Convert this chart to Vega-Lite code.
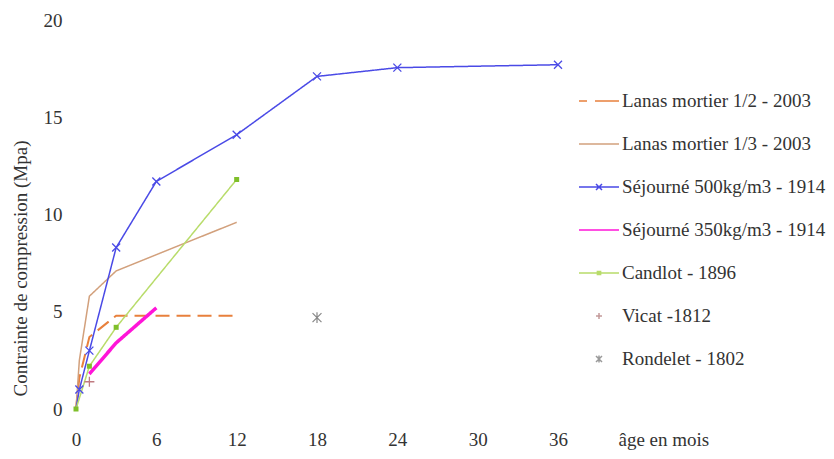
{
  "$schema": "https://vega.github.io/schema/vega-lite/v6.json",
  "width": 482,
  "height": 389,
  "autosize": {"type": "none"},
  "padding": {"left": 76, "top": 20, "right": 276, "bottom": 50},
  "background": "white",
  "config": {
    "view": {"stroke": null},
    "font": "Liberation Serif",
    "axis": {"grid": false, "domain": false, "ticks": false, "labelFlush": false, "labelFont": "Liberation Serif", "labelFontSize": 19, "labelColor": "#333", "titleFont": "Liberation Serif", "titleFontSize": 19, "titleColor": "#333", "titleFontWeight": "normal"},
    "legend": {"labelFont": "Liberation Serif", "labelFontSize": 19, "labelColor": "#333", "labelLimit": 400}
  },
  "data": {
    "values": [
      {"series": "Lanas mortier 1/2 - 2003", "month": 0, "mpa": 0},
      {"series": "Lanas mortier 1/2 - 2003", "month": 0.25, "mpa": 1.6},
      {"series": "Lanas mortier 1/2 - 2003", "month": 1, "mpa": 3.7},
      {"series": "Lanas mortier 1/2 - 2003", "month": 3, "mpa": 4.8},
      {"series": "Lanas mortier 1/2 - 2003", "month": 12, "mpa": 4.8},
      {"series": "Lanas mortier 1/3 - 2003", "month": 0, "mpa": 0},
      {"series": "Lanas mortier 1/3 - 2003", "month": 0.25, "mpa": 2.5},
      {"series": "Lanas mortier 1/3 - 2003", "month": 1, "mpa": 5.8},
      {"series": "Lanas mortier 1/3 - 2003", "month": 3, "mpa": 7.1},
      {"series": "Lanas mortier 1/3 - 2003", "month": 12, "mpa": 9.6},
      {"series": "Séjourné 500kg/m3 - 1914", "month": 0, "mpa": 0},
      {"series": "Séjourné 500kg/m3 - 1914", "month": 0.25, "mpa": 1.0},
      {"series": "Séjourné 500kg/m3 - 1914", "month": 1, "mpa": 3.0},
      {"series": "Séjourné 500kg/m3 - 1914", "month": 3, "mpa": 8.3},
      {"series": "Séjourné 500kg/m3 - 1914", "month": 6, "mpa": 11.7},
      {"series": "Séjourné 500kg/m3 - 1914", "month": 12, "mpa": 14.1},
      {"series": "Séjourné 500kg/m3 - 1914", "month": 18, "mpa": 17.1},
      {"series": "Séjourné 500kg/m3 - 1914", "month": 24, "mpa": 17.55},
      {"series": "Séjourné 500kg/m3 - 1914", "month": 36, "mpa": 17.7},
      {"series": "Séjourné 350kg/m3 - 1914", "month": 1, "mpa": 1.8},
      {"series": "Séjourné 350kg/m3 - 1914", "month": 3, "mpa": 3.4},
      {"series": "Séjourné 350kg/m3 - 1914", "month": 6, "mpa": 5.2},
      {"series": "Candlot - 1896", "month": 0, "mpa": 0},
      {"series": "Candlot - 1896", "month": 1, "mpa": 2.2},
      {"series": "Candlot - 1896", "month": 3, "mpa": 4.2},
      {"series": "Candlot - 1896", "month": 12, "mpa": 11.8},
      {"series": "Vicat -1812", "month": 1, "mpa": 1.4},
      {"series": "Rondelet - 1802", "month": 18, "mpa": 4.7}
    ]
  },
  "encoding": {
    "x": {"field": "month", "type": "quantitative", "scale": {"domain": [0, 36], "nice": false, "zero": false},
      "axis": {"values": [0, 6, 12, 18, 24, 30, 36], "labelPadding": 21, "title": "âge en mois", "titleX": 542, "titleY": 21, "titleAlign": "left", "titleBaseline": "top", "titleAnchor": null}},
    "y": {"field": "mpa", "type": "quantitative", "scale": {"domain": [0, 20], "nice": false},
      "axis": {"values": [0, 5, 10, 15, 20], "labelPadding": 14, "title": "Contrainte de compression (Mpa)", "titleX": -56, "titleY": 248, "titleAngle": -90, "titleAlign": "center", "titleBaseline": "middle", "titleAnchor": null}}
  },
  "layer": [
    {
      "transform": [{"filter": "datum.series !== 'Vicat -1812' && datum.series !== 'Rondelet - 1802'"}],
      "mark": {"type": "line"},
      "encoding": {
        "detail": {"field": "series", "type": "nominal"},
        "color": {"condition": [
          {"test": "datum.series === 'Lanas mortier 1/2 - 2003'", "value": "#e8803c"},
          {"test": "datum.series === 'Lanas mortier 1/3 - 2003'", "value": "#d2a07c"},
          {"test": "datum.series === 'Séjourné 500kg/m3 - 1914'", "value": "#4a4ae6"},
          {"test": "datum.series === 'Séjourné 350kg/m3 - 1914'", "value": "#ff14d8"}
        ], "value": "#b8dc6a"},
        "strokeWidth": {"condition": [{"test": "datum.series === 'Séjourné 350kg/m3 - 1914'", "value": 3.5}, {"test": "datum.series === 'Lanas mortier 1/2 - 2003'", "value": 2}], "value": 1.5},
        "strokeDash": {"condition": {"test": "datum.series === 'Lanas mortier 1/2 - 2003'", "value": [14, 7]}, "value": [1, 0]}
      }
    },
    {
      "mark": {"type": "point", "opacity": 0, "filled": false, "size": 1600},
      "encoding": {
        "color": {"field": "series", "type": "nominal",
          "scale": {"domain": ["Lanas mortier 1/2 - 2003", "Lanas mortier 1/3 - 2003", "Séjourné 500kg/m3 - 1914", "Séjourné 350kg/m3 - 1914", "Candlot - 1896", "Vicat -1812", "Rondelet - 1802"],
            "range": ["#e8803c", "#d2a07c", "#4a4ae6", "#ff14d8", "#b8dc6a", "#c49a9a", "#9a9a9a"]},
          "legend": {"title": null, "orient": "none", "legendX": 502, "legendY": 60, "symbolSize": 1600, "rowPadding": 12, "labelOffset": 2, "padding": 0,
            "encode": {"symbols": {"update": {"strokeWidth": {"signal": "datum.value === 'Séjourné 350kg/m3 - 1914' ? 3.5 : (datum.value === 'Lanas mortier 1/2 - 2003' ? 2 : 1.5)"}, "opacity": {"value": 1}}}}}},
        "shape": {"field": "series", "type": "nominal",
          "legend": {"title": null, "orient": "none", "legendX": 502, "legendY": 60, "symbolSize": 1600, "rowPadding": 12, "labelOffset": 2, "padding": 0,
            "encode": {"symbols": {"update": {"strokeWidth": {"signal": "datum.value === 'Séjourné 350kg/m3 - 1914' ? 3.5 : (datum.value === 'Lanas mortier 1/2 - 2003' ? 2 : 1.5)"}, "opacity": {"value": 1}}}}},
          "scale": {"domain": ["Lanas mortier 1/2 - 2003", "Lanas mortier 1/3 - 2003", "Séjourné 500kg/m3 - 1914", "Séjourné 350kg/m3 - 1914", "Candlot - 1896", "Vicat -1812", "Rondelet - 1802"],
            "range": [
              "M-1,0L-0.6,0M-0.2,0L1,0",
              "M-1,0L1,0",
              "M-1,0L1,0M-0.15,-0.15L0.15,0.15M-0.15,0.15L0.15,-0.15",
              "M-1,0L1,0",
              "M-1,0L1,0M-0.08,-0.08L0.08,-0.08L0.08,0.08L-0.08,0.08Z",
              "M-0.15,0L0.15,0M0,-0.15L0,0.15",
              "M-0.15,-0.15L0.15,0.15M-0.15,0.15L0.15,-0.15M0,-0.18L0,0.18"
            ]}}
      }
    },
    {
      "transform": [{"filter": "datum.series === 'Séjourné 500kg/m3 - 1914' && datum.month > 0"}],
      "mark": {"type": "point", "shape": "M-1,-1L1,1M-1,1L1,-1", "size": 64, "filled": false, "color": "#4a4ae6", "strokeWidth": 1.3, "opacity": 1}
    },
    {
      "transform": [{"filter": "datum.series === 'Candlot - 1896'"}],
      "mark": {"type": "point", "shape": "square", "size": 25, "filled": true, "color": "#7fbf2a", "opacity": 1}
    },
    {
      "transform": [{"filter": "datum.series === 'Vicat -1812'"}],
      "mark": {"type": "point", "shape": "M-1,0L1,0M0,-1L0,1", "size": 100, "filled": false, "color": "#c07a80", "strokeWidth": 1.3, "opacity": 1}
    },
    {
      "transform": [{"filter": "datum.series === 'Rondelet - 1802'"}],
      "mark": {"type": "point", "shape": "M-1,-1L1,1M-1,1L1,-1M0,-1.2L0,1.2", "size": 80, "filled": false, "color": "#888888", "strokeWidth": 1.2, "opacity": 1}
    }
  ]
}
